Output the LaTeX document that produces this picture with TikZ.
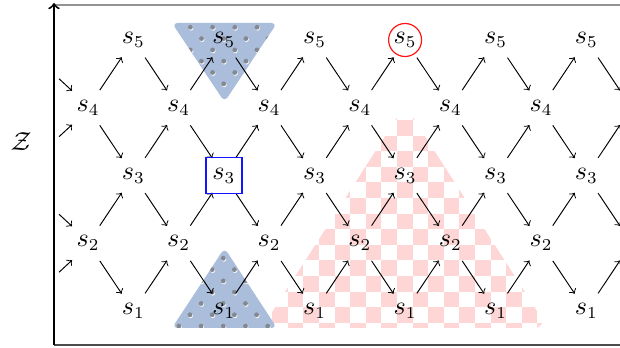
\documentclass[tikz,border=0pt]{standalone}
\usetikzlibrary{calc}
\definecolor{dotblue}{RGB}{170,189,219}
\definecolor{dotgray}{RGB}{132,136,145}
\definecolor{checkpink}{RGB}{255,214,214}
\definecolor{hlblue}{RGB}{20,20,255}
\definecolor{hlred}{RGB}{255,20,20}
\begin{document}
\begin{tikzpicture}[x=0.42pt,y=-0.42pt,
  arr/.style={->,black},
  lbl/.style={inner sep=1pt, font=\fontsize{10.5}{12}\selectfont}]
\useasboundingbox (0,0) rectangle (620,348);
% axis frame
\coordinate (bl) at (54,345);
\coordinate (tl) at (54,3);
\coordinate (tl2) at (54,5);
\coordinate (tr) at (620,5);
\coordinate (br) at (620,345);
\draw[gray!85, line width=0.8pt] (tl2) -- (tr);
\draw[black!70, line width=0.8pt] (bl) -- (br);
\node[font=\fontsize{10.5}{12}\selectfont] (z) at (21,142) {$\mathcal{Z}$};
\begin{scope}
\clip (55,6) rectangle (620,344);
% pink checker triangle
\begin{scope}
\clip[rounded corners=6pt] (262,328) -- (405,105) -- (548,328) -- cycle;
\foreach \i in {-10,...,10}{
  \foreach \j in {-1,...,14}{
    \pgfmathtruncatemacro\pp{mod(\i+\j+40,2)}
    \ifnum\pp=0
      \fill[checkpink] ({397+15.6*\i},{120+15.6*\j}) rectangle ++(15.6,15.6);
    \fi
  }
}
\end{scope}
% blue dotted triangles
\fill[dotblue, rounded corners=2.5pt] (172,23) -- (277,23) -- (224.5,102) -- cycle;
\begin{scope}
\clip[rounded corners=2.5pt] (172,23) -- (277,23) -- (224.5,102) -- cycle;
\foreach \k in {0,...,10}{
  \foreach \m in {0,...,7}{
    \pgfmathtruncatemacro\pp{mod(\k+\m,2)}
    \ifnum\pp=0
      \fill[white!90!dotblue] ({168.2+11.1*\k+0.6},{27.3+11.3*\m+1}) circle[radius=2.4];
      \fill[dotgray] ({168.2+11.1*\k},{27.3+11.3*\m}) circle[radius=2.4];
    \fi
  }
}
\end{scope}
\fill[dotblue, rounded corners=2.5pt] (224.5,248) -- (277,328) -- (172,328) -- cycle;
\begin{scope}
\clip[rounded corners=2.5pt] (224.5,248) -- (277,328) -- (172,328) -- cycle;
\foreach \k in {-5,...,5}{
  \foreach \m in {0,...,7}{
    \pgfmathtruncatemacro\pp{mod(\k+\m+20,2)}
    \ifnum\pp=0
      \fill[white!90!dotblue] ({223.3+11.1*\k+0.6},{258.3+11.3*\m+1}) circle[radius=2.4];
      \fill[dotgray] ({223.3+11.1*\k},{258.3+11.3*\m}) circle[radius=2.4];
    \fi
  }
}
\end{scope}
% lattice nodes (column 13 lies beyond the right edge: coordinates only)
\foreach \c in {1,...,13}{
  \foreach \r in {1,...,5}{
    \pgfmathtruncatemacro\pp{mod(\r+\c,2)}
    \ifnum\pp=1
      \ifnum\c<13
        \node[lbl] (n-\r-\c) at ({42.7+45.3*\c},{311-67.75*(\r-1)}) {$s_{\r}$};
      \else
        \coordinate (n-\r-\c) at ({42.7+45.3*\c},{311-67.75*(\r-1)});
      \fi
    \fi
  }
}
% lattice arrows
\foreach \c in {1,...,12}{
  \foreach \r in {1,...,5}{
    \pgfmathtruncatemacro\pp{mod(\r+\c,2)}
    \pgfmathtruncatemacro\cn{\c+1}
    \pgfmathtruncatemacro\ru{\r+1}
    \pgfmathtruncatemacro\rd{\r-1}
    \ifnum\pp=1
      \ifnum\r<5
        \draw[arr] ($(n-\r-\c)!0.26!(n-\ru-\cn)$) -- ($(n-\r-\c)!0.745!(n-\ru-\cn)$);
      \fi
      \ifnum\r>1
        \draw[arr] ($(n-\r-\c)!0.26!(n-\rd-\cn)$) -- ($(n-\r-\c)!0.745!(n-\rd-\cn)$);
      \fi
    \fi
  }
}
% short incoming arrows at the left edge
\foreach \r in {2,4}{
  \draw[arr] ($(n-\r-1)+(-29,-29)$) -- ($(n-\r-1)+(-16,-17)$);
  \draw[arr] ($(n-\r-1)+(-29,29)$) -- ($(n-\r-1)+(-16,17)$);
}
% highlights
\draw[hlred, line width=0.5pt] (n-5-8) circle[radius=16.5];
\draw[hlblue, line width=0.6pt] ($(n-3-4)+(-18,-18)$) rectangle ($(n-3-4)+(18,18)$);
\end{scope}
\draw[->, line width=0.8pt] (bl) -- (tl);
\end{tikzpicture}
\end{document}
